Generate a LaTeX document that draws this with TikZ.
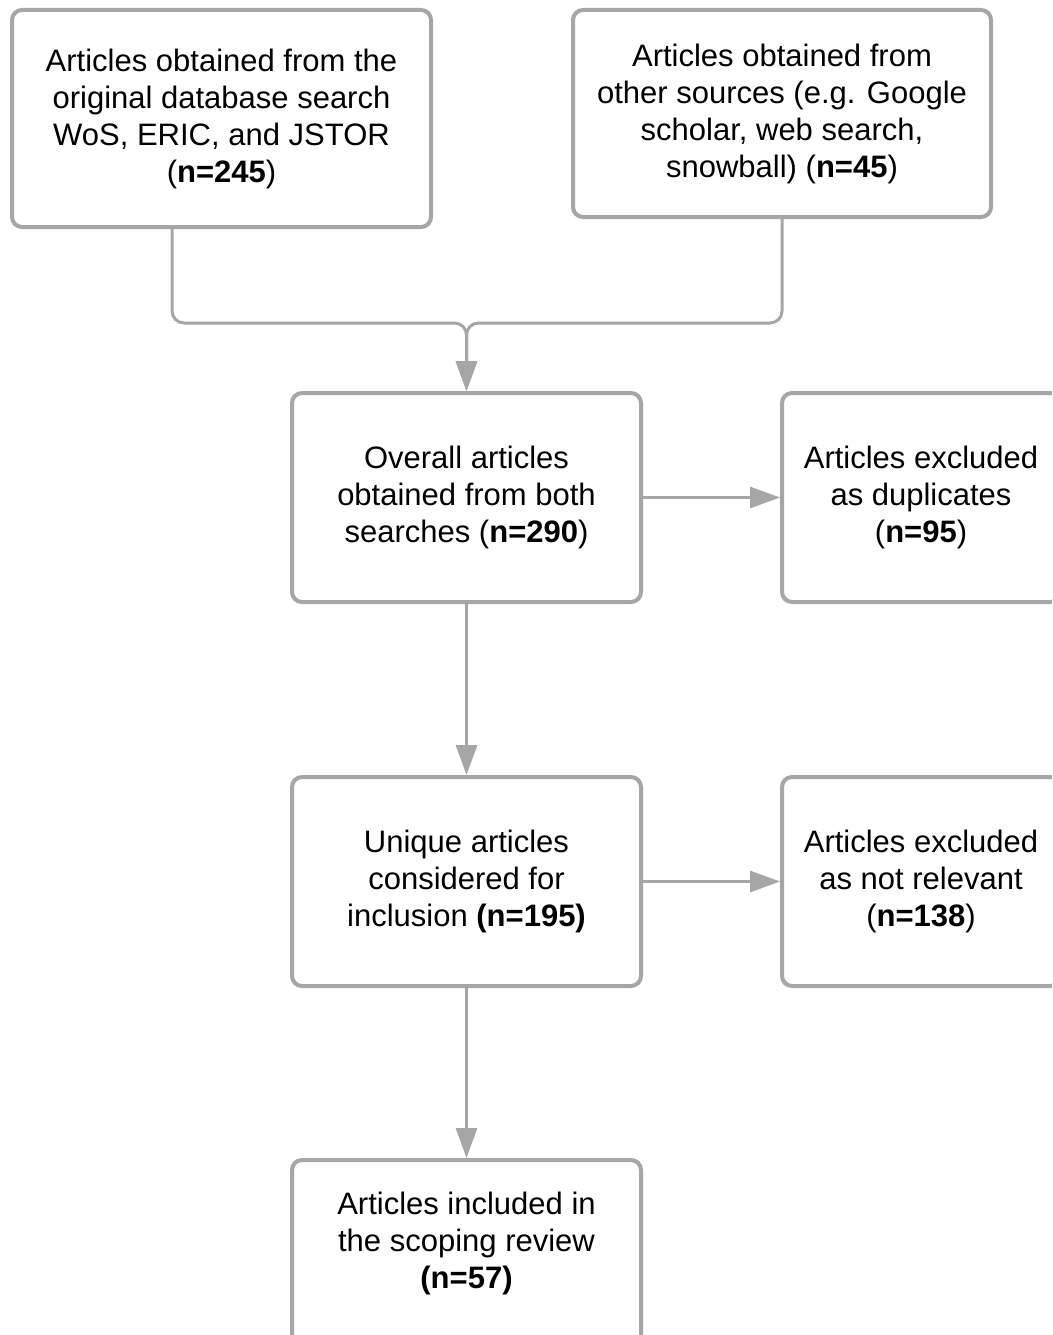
\documentclass[tikz,border=0pt]{standalone}
\usepackage{fontspec}
\setmainfont{Liberation Sans}
\usetikzlibrary{arrows.meta}
\definecolor{lc}{HTML}{A6A6A6}
\begin{document}
\begin{tikzpicture}[x=1pt,y=-1pt,
  box/.style={draw=lc, line width=4pt, rounded corners=10pt, fill=white, align=center, inner sep=0pt,
    font=\fontsize{31}{37}\selectfont},
  txt/.style={align=center, inner sep=0pt, font=\fontsize{31}{37}\selectfont},
  conn/.style={draw=lc, line width=3pt, -{Triangle[length=30pt,width=21pt]}}]
\clip (0,0) rectangle (1052,1335);
\fill[white] (0,0) rectangle (1052,1335);
\node[box, minimum width=419pt, minimum height=217pt] (b1) at (221.5,118.5)
  {Articles obtained from the\\original database search\\WoS, ERIC, and JSTOR\\(\textbf{n=245})};
\node[box, minimum width=418pt, minimum height=207pt] (b2) at (782,113.5)
  {Articles obtained from\\other sources (e.g. Google\\scholar, web search,\\snowball) (\textbf{n=45})};
\node[box, minimum width=349pt, minimum height=209pt] (b3) at (466.5,497.5)
  {Overall articles\\obtained from both\\searches (\textbf{n=290})};
\node[box, minimum width=278pt, minimum height=209pt] (b4) at (921,497.5)
  {Articles excluded\\as duplicates\\(\textbf{n=95})};
\node[box, minimum width=349pt, minimum height=209pt] (b5) at (466.5,881.5)
  {Unique articles\\considered for\\inclusion \textbf{(n=195)}};
\node[box, minimum width=278pt, minimum height=209pt] (b6) at (921,881.5)
  {Articles excluded\\as not relevant\\(\textbf{n=138})};
\node[box, minimum width=349pt, minimum height=209pt, anchor=north] (b7) at (466.5,1158) {};
\node[txt] (b7t) at (466.5,1243)
  {Articles included in\\the scoping review\\\textbf{(n=57)}};
\coordinate (j) at (466.5,323);
\draw[conn, rounded corners=12pt] ([xshift=-49.5pt]b1.south) |- (j) -- (b3.north);
\draw[conn, rounded corners=12pt] (b2.south) |- (j) -- (b3.north);
\draw[conn] (b3.east) -- (b4.west);
\draw[conn] (b3.south) -- (b5.north);
\draw[conn] (b5.east) -- (b6.west);
\draw[conn] (b5.south) -- (b7.north);
\end{tikzpicture}
\end{document}
